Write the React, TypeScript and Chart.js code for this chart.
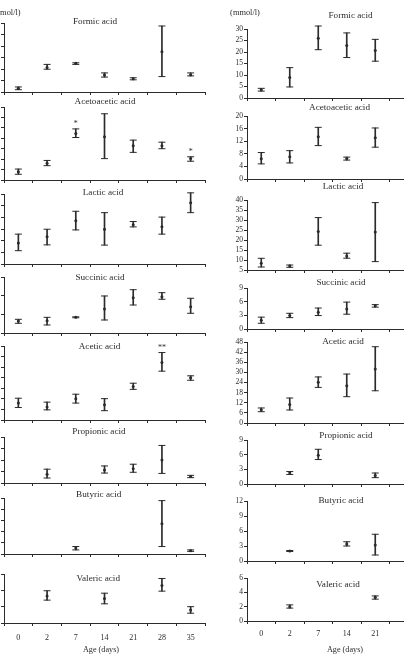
import React, { useEffect, useRef } from 'react';
import { Chart, registerables } from 'chart.js';

Chart.register(...registerables);

// ---------------- data ----------------
const daysA = ['0', '2', '7', '14', '21', '28', '35'];
const daysB = ['0', '2', '7', '14', '21', ''];

type V = number | null;

// Group A (left column)
const formicA_mean: V[] = [1.6, 10.6, 12.5, 7.4, 5.8, 17.5, 7.5];
const formicA_low: V[] = [1.0, 9.9, 12.0, 6.5, 5.3, 6.7, 7.0];
const formicA_high: V[] = [2.2, 12.0, 12.7, 8.3, 6.2, 28.7, 8.3];

const acetoA_mean: V[] = [1.6, 3.2, 8.9, 8.3, 6.55, 6.55, 4.1];
const acetoA_low: V[] = [1.1, 2.75, 8.15, 4.1, 5.3, 6.0, 3.6];
const acetoA_high: V[] = [2.1, 3.75, 9.8, 12.7, 7.65, 7.25, 4.45];
const acetoA_sig: string[] = ['', '', '*', '', '', '', '*'];

const lacticA_mean: V[] = [9.0, 11.7, 18.5, 14.9, 16.8, 16.0, 26.3];
const lacticA_low: V[] = [5.7, 8.2, 14.6, 8.1, 15.9, 12.8, 22.0];
const lacticA_high: V[] = [12.8, 14.9, 22.6, 22.0, 18.2, 20.1, 30.5];

const succinicA_mean: V[] = [1.93, 1.98, 2.52, 3.86, 5.67, 5.83, 4.23];
const succinicA_low: V[] = [1.56, 1.29, 2.45, 2.09, 4.5, 5.42, 3.17];
const succinicA_high: V[] = [2.2, 2.52, 2.6, 5.95, 6.96, 6.48, 5.58];

const aceticA_mean: V[] = [8.0, 6.1, 10.0, 7.2, 15.8, 27.2, 20.0];
const aceticA_low: V[] = [5.9, 4.8, 8.0, 4.4, 14.5, 23.1, 18.8];
const aceticA_high: V[] = [10.3, 8.45, 12.2, 10.1, 17.4, 31.9, 20.9];
const aceticA_sig: string[] = ['', '', '', '', '', '**', ''];

const propionicA_mean: V[] = [null, 2.3, null, 3.4, 3.75, 6.0, 1.7];
const propionicA_low: V[] = [null, 1.3, null, 2.6, 2.8, 2.5, 1.4];
const propionicA_high: V[] = [null, 3.6, null, 4.45, 4.9, 9.8, 2.0];

const butyricA_mean: V[] = [null, null, 1.6, null, null, 8.1, 0.9];
const butyricA_low: V[] = [null, null, 1.1, null, null, 2.0, 0.7];
const butyricA_high: V[] = [null, null, 2.0, null, null, 14.3, 1.1];

const valericA_mean: V[] = [null, 3.3, null, 3.0, null, 4.6, 1.6];
const valericA_low: V[] = [null, 2.8, null, 2.35, null, 3.9, 1.2];
const valericA_high: V[] = [null, 3.95, null, 3.65, null, 5.45, 2.0];

// Group B (right column)
const formicB_mean: V[] = [3.6, 8.9, 26.0, 22.8, 20.6, null];
const formicB_low: V[] = [3.0, 4.8, 21.0, 17.6, 16.0, null];
const formicB_high: V[] = [4.2, 13.2, 31.3, 28.3, 25.5, null];

const acetoB_mean: V[] = [6.4, 7.1, 13.4, 6.5, 13.1, null];
const acetoB_low: V[] = [4.8, 5.1, 10.6, 6.0, 10.1, null];
const acetoB_high: V[] = [8.4, 9.0, 16.4, 6.95, 16.2, null];

const lacticB_mean: V[] = [8.4, 7.0, 24.2, 12.0, 24.0, null];
const lacticB_low: V[] = [6.5, 6.35, 17.4, 10.9, 9.2, null];
const lacticB_high: V[] = [10.85, 7.5, 31.2, 13.4, 38.7, null];

const succinicB_mean: V[] = [1.9, 2.95, 3.7, 4.4, 5.1, null];
const succinicB_low: V[] = [1.26, 2.5, 2.95, 3.25, 4.8, null];
const succinicB_high: V[] = [2.6, 3.45, 4.6, 5.9, 5.35, null];

const aceticB_mean: V[] = [7.9, 11.0, 24.1, 22.1, 32.0, null];
const aceticB_low: V[] = [6.7, 7.7, 21.1, 15.6, 19.1, null];
const aceticB_high: V[] = [8.9, 14.8, 27.3, 29.0, 45.2, null];

const propionicB_mean: V[] = [null, 2.3, 5.9, null, 1.75, null];
const propionicB_low: V[] = [null, 1.95, 5.0, null, 1.3, null];
const propionicB_high: V[] = [null, 2.55, 7.1, null, 2.25, null];

const butyricB_mean: V[] = [null, 2.0, null, 3.4, 3.2, null];
const butyricB_low: V[] = [null, 1.9, null, 3.0, 1.2, null];
const butyricB_high: V[] = [null, 2.1, null, 3.85, 5.35, null];

const valericB_mean: V[] = [null, 2.0, null, null, 3.3, null];
const valericB_low: V[] = [null, 1.8, null, null, 3.05, null];
const valericB_high: V[] = [null, 2.25, null, null, 3.5, null];

// Axis ranges [min, max, step]
const rangesA: number[][] = [[0, 30, 5], [0, 14, 2], [0, 30, 5], [0, 9, 3], [0, 35, 5], [0, 12, 3], [0, 15, 3], [0, 6, 2]];
const rangesB: number[][] = [[0, 30, 5], [0, 20, 4], [5, 40, 5], [0, 9, 3], [0, 48, 6], [0, 9, 3], [0, 12, 3], [0, 6, 2]];

const titles = ['Formic acid', 'Acetoacetic acid', 'Lactic acid', 'Succinic acid', 'Acetic acid', 'Propionic acid', 'Butyric acid', 'Valeric acid'];
const unitLabel = '(mmol/l)';
const xTitle = 'Age (days)';

// ---------------- layout / style ----------------
const INK = '#2b2b2b';
const FONT = '"Liberation Serif", "Times New Roman", serif';
const PT = 24;
const YW = 40;
const XH = 8;
const H_TOTAL = 657;

const colA = { left: -36, plotW: 206, xPad: 7 };
const colB = { left: 207, plotW: 176, xPad: 5 };
const rowsA = [[23, 92], [107, 180], [194, 264], [277, 333], [346, 420], [437, 483], [498, 554], [574, 623]];
const rowsB = [[29, 98], [116, 179], [200, 270], [288, 329], [342, 423], [440, 484], [501, 561], [578, 621]];
const titlePosA = [[95, 22], [105, 102], [103, 193], [100, 278], [99.5, 347], [99, 432], [98.7, 495], [98.2, 579]];
const titlePosB = [[350.5, 16], [339.5, 108], [343, 187], [341, 283], [343, 342], [346, 436], [341, 501], [338, 585]];
const unitPosA = [5.7, 13];
const unitPosB = [245, 13.3];
const xTitlePosA = [101, 650];
const xTitlePosB = [345, 650];

type PanelData = {
  labels: string[];
  mean: V[];
  low: V[];
  high: V[];
  sig?: string[];
  range: number[];
  title: string;
};

const panelsA: PanelData[] = [
  { labels: daysA, mean: formicA_mean, low: formicA_low, high: formicA_high, range: rangesA[0], title: titles[0] },
  { labels: daysA, mean: acetoA_mean, low: acetoA_low, high: acetoA_high, sig: acetoA_sig, range: rangesA[1], title: titles[1] },
  { labels: daysA, mean: lacticA_mean, low: lacticA_low, high: lacticA_high, range: rangesA[2], title: titles[2] },
  { labels: daysA, mean: succinicA_mean, low: succinicA_low, high: succinicA_high, range: rangesA[3], title: titles[3] },
  { labels: daysA, mean: aceticA_mean, low: aceticA_low, high: aceticA_high, sig: aceticA_sig, range: rangesA[4], title: titles[4] },
  { labels: daysA, mean: propionicA_mean, low: propionicA_low, high: propionicA_high, range: rangesA[5], title: titles[5] },
  { labels: daysA, mean: butyricA_mean, low: butyricA_low, high: butyricA_high, range: rangesA[6], title: titles[6] },
  { labels: daysA, mean: valericA_mean, low: valericA_low, high: valericA_high, range: rangesA[7], title: titles[7] },
];

const panelsB: PanelData[] = [
  { labels: daysB, mean: formicB_mean, low: formicB_low, high: formicB_high, range: rangesB[0], title: titles[0] },
  { labels: daysB, mean: acetoB_mean, low: acetoB_low, high: acetoB_high, range: rangesB[1], title: titles[1] },
  { labels: daysB, mean: lacticB_mean, low: lacticB_low, high: lacticB_high, range: rangesB[2], title: titles[2] },
  { labels: daysB, mean: succinicB_mean, low: succinicB_low, high: succinicB_high, range: rangesB[3], title: titles[3] },
  { labels: daysB, mean: aceticB_mean, low: aceticB_low, high: aceticB_high, range: rangesB[4], title: titles[4] },
  { labels: daysB, mean: propionicB_mean, low: propionicB_low, high: propionicB_high, range: rangesB[5], title: titles[5] },
  { labels: daysB, mean: butyricB_mean, low: butyricB_low, high: butyricB_high, range: rangesB[6], title: titles[6] },
  { labels: daysB, mean: valericB_mean, low: valericB_low, high: valericB_high, range: rangesB[7], title: titles[7] },
];

type TextItem = { text: string; x: number; y: number; size: number };

type PanelProps = {
  data: PanelData;
  left: number;
  top: number;
  width: number;
  height: number;
  xh: number;
  bottom: boolean;
  xPad: number;
  texts: TextItem[];
};

function Panel(props: PanelProps) {
  const ref = useRef<HTMLCanvasElement | null>(null);
  useEffect(() => {
    if (!ref.current) return;
    const d = props.data;
    const [min, max, step] = d.range;

    const textPlugin = {
      id: 'panelTexts',
      afterDraw(chart: any) {
        const ctx = chart.ctx;
        ctx.save();
        ctx.fillStyle = INK;
        ctx.textAlign = 'center';
        ctx.textBaseline = 'middle';
        props.texts.forEach((t) => {
          ctx.font = `${t.size}px ${FONT}`;
          ctx.fillText(t.text, t.x, t.y);
        });
        ctx.restore();
      },
    };

    const sigPlugin = {
      id: 'sigMarks',
      afterDatasetsDraw(chart: any) {
        if (!d.sig) return;
        const ctx = chart.ctx;
        const xs = chart.scales.x;
        const ys = chart.scales.y;
        ctx.save();
        ctx.fillStyle = INK;
        ctx.font = `8px ${FONT}`;
        ctx.textAlign = 'center';
        ctx.textBaseline = 'alphabetic';
        d.sig.forEach((s, i) => {
          const h = d.high[i];
          if (!s || h == null) return;
          ctx.fillText(s, xs.getPixelForValue(i), ys.getPixelForValue(h) - 2.5);
        });
        ctx.restore();
      },
    };

    const capStyle = {
      type: 'line' as const,
      showLine: false,
      pointStyle: 'line',
      pointRadius: 3.5,
      pointBorderWidth: 1,
      pointBorderColor: INK,
      pointBackgroundColor: INK,
      clip: false as any,
    };

    const chart = new Chart(ref.current, {
      type: 'bar',
      data: {
        labels: d.labels,
        datasets: [
          {
            type: 'bar',
            data: d.low.map((l, i) => (l == null || d.high[i] == null ? null : [l, d.high[i] as number])) as any,
            backgroundColor: INK,
            borderWidth: 0,
            barThickness: 1,
            clip: false as any,
          },
          { ...capStyle, data: d.high as any },
          { ...capStyle, data: d.low as any },
          {
            type: 'line',
            showLine: false,
            data: d.mean as any,
            pointStyle: 'circle',
            pointRadius: 1.5,
            pointBorderWidth: 0,
            pointBackgroundColor: INK,
            clip: false as any,
          },
        ] as any,
      },
      options: {
        animation: false,
        responsive: true,
        maintainAspectRatio: false,
        events: [],
        layout: { padding: { top: PT, left: 0, right: 0, bottom: 0 } },
        plugins: { legend: { display: false }, tooltip: { enabled: false }, title: { display: false } },
        scales: {
          x: {
            type: 'category',
            offset: true,
            grid: { display: true, drawOnChartArea: false, drawTicks: true, tickLength: 3, color: INK, lineWidth: 1, offset: true },
            border: { display: true, color: INK, width: 1 },
            ticks: {
              display: props.bottom,
              padding: props.xPad,
              autoSkip: false,
              maxRotation: 0,
              color: INK,
              font: { family: FONT, size: 8 },
            },
            afterFit(s: any) {
              s.height = props.xh;
              s.paddingLeft = 0;
              s.paddingRight = 0;
              s.paddingTop = 0;
              s.paddingBottom = 0;
            },
          },
          y: {
            type: 'linear',
            min,
            max,
            grid: { display: true, drawOnChartArea: false, drawTicks: true, tickLength: 3, color: INK, lineWidth: 1 },
            border: { display: true, color: INK, width: 1 },
            ticks: { stepSize: step, autoSkip: false, padding: 1, color: INK, font: { family: FONT, size: 7.5 } },
            afterFit(s: any) {
              s.width = YW;
              s.paddingLeft = 0;
              s.paddingRight = 0;
              s.paddingTop = 0;
              s.paddingBottom = 0;
            },
          },
        },
      } as any,
      plugins: [sigPlugin, textPlugin],
    });
    return () => chart.destroy();
  }, []);

  return (
    <div style={{ position: 'absolute', left: props.left, top: props.top, width: props.width, height: props.height }}>
      <canvas ref={ref} />
    </div>
  );
}

export default function App() {
  const items: React.ReactNode[] = [];
  const build = (panels: PanelData[], col: { left: number; plotW: number; xPad: number }, rows: number[][], tpos: number[][], unitPos: number[], xtPos: number[], key: string) => {
    panels.forEach((p, i) => {
      const [plotTop, axisY] = rows[i];
      const isBottom = i === panels.length - 1;
      const top = plotTop - PT;
      const xh = isBottom ? H_TOTAL - axisY : XH;
      const height = PT + (axisY - plotTop) + xh;
      const width = YW + col.plotW;
      const texts: TextItem[] = [{ text: p.title, x: tpos[i][0] - col.left, y: tpos[i][1] - top, size: 9.2 }];
      if (i === 0) texts.push({ text: unitLabel, x: unitPos[0] - col.left, y: unitPos[1] - top, size: 8.4 });
      if (isBottom) texts.push({ text: xTitle, x: xtPos[0] - col.left, y: xtPos[1] - top, size: 8.2 });
      items.push(
        <Panel
          key={key + i}
          data={p}
          left={col.left}
          top={top}
          width={width}
          height={height}
          xh={xh}
          bottom={isBottom}
          xPad={col.xPad}
          texts={texts}
        />
      );
    });
  };
  build(panelsA, colA, rowsA, titlePosA, unitPosA, xTitlePosA, 'a');
  build(panelsB, colB, rowsB, titlePosB, unitPosB, xTitlePosB, 'b');

  return (
    <div style={{ position: 'fixed', left: 0, top: 0, width: 404, height: 657, overflow: 'hidden', background: '#fff' }}>
      {items}
    </div>
  );
}
